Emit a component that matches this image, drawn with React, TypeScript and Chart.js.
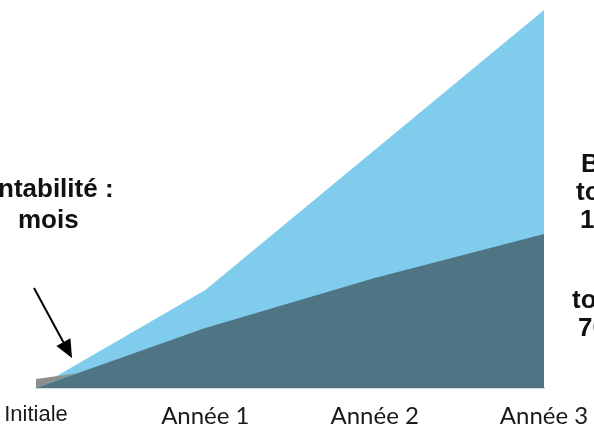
import { useEffect, useRef } from "react";
import { Chart, registerables } from "chart.js";

Chart.register(...registerables);

const categories = ["Initiale", "Année 1", "Année 2", "Année 3"];
const gainValues = [0, 98, 238, 378];
const costValues = [0, 60, 110, 154];
const startValues = [9, 32, null, null];

const leftNote = ["ntabilité :", "mois"];
const rightNotes = ["B", "to", "1,", "to", "70"];

const annotationPlugin = {
  id: "notes",
  afterDraw(chart: any) {
    const ctx = chart.ctx;
    ctx.save();
    ctx.fillStyle = "#111";
    ctx.font = "bold 26px 'Liberation Sans', Arial, sans-serif";
    ctx.textBaseline = "alphabetic";
    ctx.textAlign = "left";
    ctx.fillText(leftNote[0], -2, 197);
    ctx.fillText(leftNote[1], 18, 228);
    const rx = [581, 576, 580, 572, 578];
    const ry = [172, 200, 228, 308, 336];
    rightNotes.forEach((t, i) => ctx.fillText(t, rx[i], ry[i]));

    // arrow
    const x0 = 34, y0 = 288, x1 = 72, y1 = 358;
    const ang = Math.atan2(y1 - y0, x1 - x0);
    const head = 18;
    const bx = x1 - head * Math.cos(ang);
    const by = y1 - head * Math.sin(ang);
    ctx.strokeStyle = "#000";
    ctx.lineWidth = 2;
    ctx.beginPath();
    ctx.moveTo(x0, y0);
    ctx.lineTo(bx, by);
    ctx.stroke();
    ctx.fillStyle = "#000";
    ctx.beginPath();
    ctx.moveTo(x1, y1);
    ctx.lineTo(bx + 8 * Math.sin(ang), by - 8 * Math.cos(ang));
    ctx.lineTo(bx - 8 * Math.sin(ang), by + 8 * Math.cos(ang));
    ctx.closePath();
    ctx.fill();
    ctx.restore();
  },
};

export default function App() {
  const ref = useRef<HTMLCanvasElement | null>(null);
  useEffect(() => {
    if (!ref.current) return;
    const chart = new Chart(ref.current, {
      type: "line",
      data: {
        labels: categories,
        datasets: [
          {
            label: "Gains",
            data: gainValues,
            backgroundColor: "#80CCEC",
            borderWidth: 0,
            pointRadius: 0,
            fill: "origin",
            order: 2,
          },
          {
            label: "Coûts",
            data: costValues,
            backgroundColor: "#4F7585",
            borderWidth: 0,
            pointRadius: 0,
            fill: "origin",
            order: 0,
          },
          {
            label: "Initial",
            data: startValues,
            backgroundColor: "#8E8E8E",
            borderWidth: 0,
            pointRadius: 0,
            fill: { target: 1, above: "#8E8E8E", below: "rgba(0,0,0,0)" },
            order: 1,
          },
        ],
      },
      options: {
        animation: false,
        responsive: false,
        layout: { padding: { left: 36, right: 50, top: 10, bottom: 0 } },
        plugins: { legend: { display: false }, tooltip: { enabled: false } },
        scales: {
          x: {
            offset: false,
            grid: { display: false, drawTicks: false },
            border: { display: true, color: "#D9D9D9", width: 2 },
            afterFit: (s: any) => {
              s.paddingLeft = 0;
              s.paddingRight = 0;
              s.height = 41;
            },
            ticks: {
              padding: 14,
              maxRotation: 0,
              autoSkip: false,
              color: "#1a1a1a",
              font: (c: any) =>
                c.index === 0
                  ? { family: "'Liberation Sans', Arial, sans-serif", size: 22 }
                  : { family: "Lato, sans-serif", size: 24 },
            },
          },
          y: { display: false, min: 0, max: 378 },
        },
      },
      plugins: [annotationPlugin],
    });
    return () => chart.destroy();
  }, []);
  return (
    <div style={{ position: "fixed", left: 0, top: 0, width: 594, height: 429 }}>
      <canvas ref={ref} width={594} height={429} />
    </div>
  );
}
